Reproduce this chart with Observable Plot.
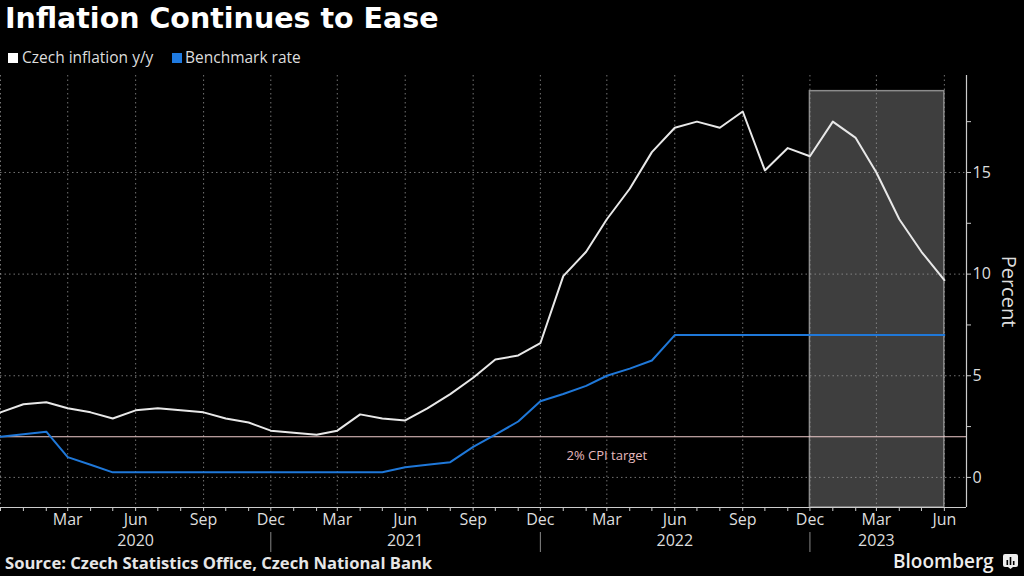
<!DOCTYPE html>
<html><head><meta charset="utf-8">
<script src="https://cdn.jsdelivr.net/npm/d3@7"></script>
<script src="https://cdn.jsdelivr.net/npm/@observablehq/plot@0.6"></script>
<style>
html,body{margin:0;padding:0;background:#000;}
#wrap{position:relative;width:1024px;height:576px;overflow:hidden;background:#000;}
#title{position:absolute;left:5px;top:4.7px;font-family:"DejaVu Sans";font-weight:bold;font-size:28.5px;line-height:1;color:#fff;white-space:nowrap;}
.lg{position:absolute;top:50.3px;font-family:"Open Sans";font-size:15.5px;line-height:1;color:#ddd;white-space:nowrap;}
.sw{position:absolute;top:53px;width:10px;height:10px;}
#chart{position:absolute;left:0;top:70px;}
#source{position:absolute;left:5px;top:555.4px;font-family:"Open Sans";font-weight:bold;font-size:16.6px;line-height:1;color:#e6e6e6;white-space:nowrap;}
#brand{position:absolute;left:893px;top:551.5px;font-family:"Open Sans";font-weight:600;font-size:19px;line-height:1;color:#eee;white-space:nowrap;}
#icon{position:absolute;left:1003px;top:554px;}
</style></head><body><div id="wrap">
<div id="title">Inflation Continues to Ease</div>
<div class="sw" style="left:8px;background:#ffffff"></div>
<div class="lg" style="left:22px">Czech inflation y/y</div>
<div class="sw" style="left:172px;background:#1f7ae0"></div>
<div class="lg" style="left:185px">Benchmark rate</div>
<div id="chart"></div>
<div id="source">Source: Czech Statistics Office, Czech National Bank</div>
<div id="brand">Bloomberg</div>
<svg id="icon" width="15" height="15" viewBox="0 0 15 15"><rect x="0" y="0" width="15" height="13" rx="2" fill="#eee"/><path d="M5 13 L7.5 15 L10 13 Z" fill="#eee"/><rect x="3.5" y="6" width="1.6" height="5" fill="#000"/><rect x="6.7" y="3" width="1.6" height="8" fill="#000"/><rect x="9.9" y="7" width="1.6" height="4" fill="#000"/></svg>
</div>
<script>
const months = ["2019-12",
 "2020-01","2020-02","2020-03","2020-04","2020-05","2020-06","2020-07","2020-08","2020-09","2020-10","2020-11","2020-12",
 "2021-01","2021-02","2021-03","2021-04","2021-05","2021-06","2021-07","2021-08","2021-09","2021-10","2021-11","2021-12",
 "2022-01","2022-02","2022-03","2022-04","2022-05","2022-06","2022-07","2022-08","2022-09","2022-10","2022-11","2022-12",
 "2023-01","2023-02","2023-03","2023-04","2023-05","2023-06"];
const inflation = [3.2,
 3.6,3.7,3.4,3.2,2.9,3.3,3.4,3.3,3.2,2.9,2.7,2.3,
 2.2,2.1,2.3,3.1,2.9,2.8,3.4,4.1,4.9,5.8,6.0,6.6,
 9.9,11.1,12.7,14.2,16.0,17.2,17.5,17.2,18.0,15.1,16.2,15.8,
 17.5,16.7,15.0,12.7,11.1,9.7];
const rate = [2.0,
 2.12,2.25,1.0,0.62,0.25,0.25,0.25,0.25,0.25,0.25,0.25,0.25,
 0.25,0.25,0.25,0.25,0.25,0.5,0.62,0.75,1.5,2.1,2.75,3.75,
 4.1,4.5,5.0,5.35,5.75,7.0,7.0,7.0,7.0,7.0,7.0,7.0,
 7.0,7.0,7.0,7.0,7.0,7.0];
const yMajorTicks = [0, 5, 10, 15];
const yMinorTicks = [2.5, 7.5, 12.5, 17.5];
const yearLabelMonths = ["2020-06","2021-06","2022-06","2023-03"];
const yearSepMonths = ["2020-12","2021-12","2022-12"];
const shadeStart = "2022-12", shadeEnd = "2023-06", shadeTop = 19;
const targetValue = 2, targetLabel = "2% CPI target", targetLabelMonth = "2022-03";

const parse = d3.utcParse("%Y-%m");
const data = months.map((m, i) => ({date: parse(m), inflation: inflation[i], rate: rate[i]}));
const xDomain = [parse("2019-12"), parse("2023-07")];
const yDomain = [-1.48, 19.77];
const monthTicks = d3.utcMonths(xDomain[0], xDomain[1]);
const quarterTicks = monthTicks.filter(d => d.getUTCMonth() % 3 === 2);
const quarterLabelTicks = quarterTicks.filter(d => d > xDomain[0]);
const shade = [{x1: parse(shadeStart), x2: parse(shadeEnd), y1: yDomain[0], y2: shadeTop}];
const grid = {stroke: "#9a9a9a", strokeOpacity: 0.75, strokeDasharray: "1.5,3", strokeWidth: 1};

const chart = Plot.plot({
  width: 1024, height: 490,
  marginTop: 5, marginBottom: 53, marginLeft: 0, marginRight: 58,
  style: {background: "#000", color: "#dddddd", fontFamily: "Open Sans", fontSize: "16px", overflow: "visible"},
  x: {type: "utc", domain: xDomain, label: null},
  y: {domain: yDomain, label: null},
  marks: [
    Plot.rect(shade, {x1: "x1", x2: "x2", y1: "y1", y2: "y2", fill: "#3e3e3e", stroke: "#8c8c8c", strokeWidth: 1.5}),
    Plot.gridX(quarterTicks, grid),
    Plot.gridY(yMajorTicks, grid),
    Plot.ruleY([targetValue], {stroke: "#f0cccc", strokeWidth: 1}),
    Plot.text([targetLabel], {x: parse(targetLabelMonth), y: targetValue, dy: 19, fill: "#e6b9be", fontSize: 13}),
    Plot.lineY(data, {x: "date", y: "rate", stroke: "#1f78d9", strokeWidth: 2}),
    Plot.lineY(data, {x: "date", y: "inflation", stroke: "#e8e8e8", strokeWidth: 2}),
    Plot.ruleY([yDomain[0]], {stroke: "#cccccc", strokeWidth: 1.2}),
    Plot.ruleX([xDomain[1]], {stroke: "#cccccc", strokeWidth: 1.2}),
    Plot.axisX(monthTicks, {tickSize: 4, text: null, stroke: "#cccccc", label: null}),
    Plot.axisX(quarterLabelTicks, {tickSize: 0, tickPadding: 6, tickFormat: "%b", label: null}),
    Plot.axisX(yearLabelMonths.map(parse), {tickSize: 0, tickPadding: 27, tickFormat: "%Y", label: null}),
    Plot.axisX(yearSepMonths.map(parse), {tickSize: 20, dy: 25, text: null, stroke: "#888888", label: null}),
    Plot.axisY(yMajorTicks, {anchor: "right", tickSize: 4, tickPadding: 2, label: null, stroke: "#cccccc"}),
    Plot.axisY(yMinorTicks, {anchor: "right", tickSize: 4, text: null, label: null, stroke: "#cccccc"}),
    Plot.text(["Percent"], {frameAnchor: "right", dx: 42, rotate: 90, textAnchor: "middle", fontSize: 20, fill: "#dddddd"})
  ]
});
document.getElementById("chart").appendChild(chart);
</script>
</body></html>
